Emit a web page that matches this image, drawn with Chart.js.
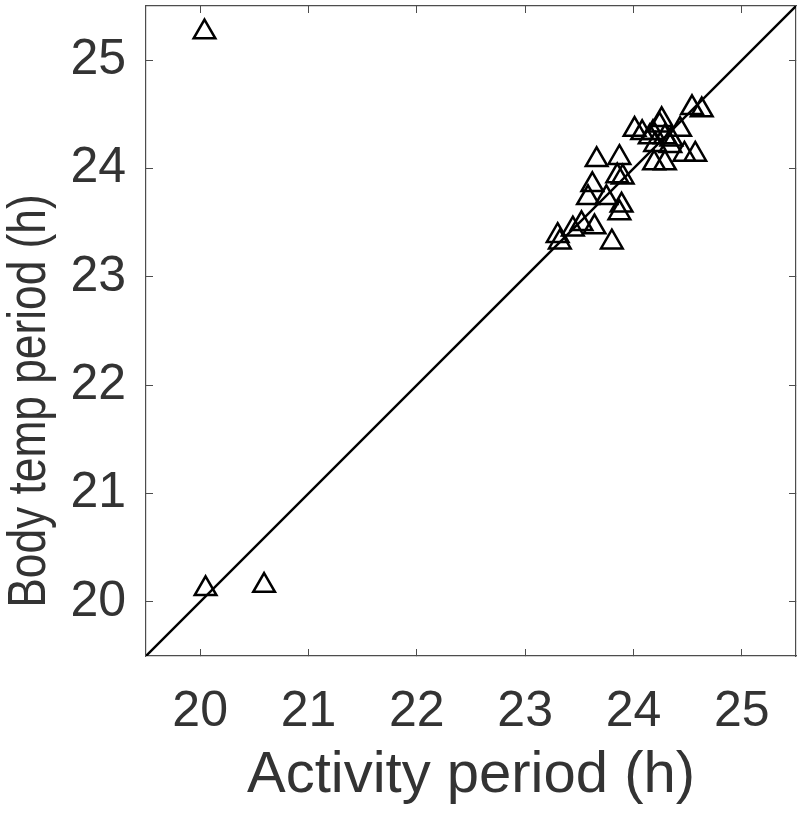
<!DOCTYPE html>
<html>
<head>
<meta charset="utf-8">
<script src="https://cdn.jsdelivr.net/npm/chart.js@4"></script>
<style>
  html, body { margin: 0; padding: 0; background: #fff; }
  #wrap { width: 800px; height: 813px; }
</style>
</head>
<body>
<div id="wrap"><canvas id="periodChart"></canvas></div>
<script>
// Activity period vs body temperature period (h), one triangle per animal
const activityPeriod = [
  20.04, 20.05, 20.59,
  23.30, 23.32, 23.44, 23.52, 23.64, 23.80,
  23.66, 23.87, 23.62, 23.58, 23.75, 23.85, 23.90, 23.89, 23.87,
  24.01, 24.08, 24.18, 24.24, 24.26, 24.43, 24.15, 24.29, 24.35,
  24.20, 24.34, 24.47, 24.57, 24.19, 24.29, 24.54, 24.63
];
const bodyTempPeriod = [
  25.26, 20.12, 20.15,
  23.38, 23.32, 23.44, 23.49, 23.46, 23.32,
  24.08, 24.10, 23.85, 23.73, 23.73, 23.93, 23.92, 23.66, 23.59,
  24.36, 24.33, 24.33, 24.40, 24.45, 24.36, 24.29, 24.29, 24.27,
  24.22, 24.21, 24.13, 24.13, 24.05, 24.05, 24.56, 24.54
];
const axisRange = [19.5, 25.5];   // both axes, identity line runs corner to corner
const tickValues = [20, 21, 22, 23, 24, 25];
const yTitleText = 'Body temp period (h)';

const points = activityPeriod.map((x, i) => ({ x: x, y: bodyTempPeriod[i] }));
const identity = axisRange.map(v => ({ x: v, y: v }));

const textColor = '#333333';
const frameColor = '#4d4d4d';

// fixes the axis box size and drops the label overhang padding
function fixSize(prop, size) {
  return axis => {
    axis[prop] = size;
    axis.paddingTop = 0; axis.paddingBottom = 0;
    axis.paddingLeft = 0; axis.paddingRight = 0;
  };
}

function baseAxis(position) {
  return {
    type: 'linear',
    position: position,
    min: axisRange[0],
    max: axisRange[1],
    afterBuildTicks: axis => { axis.ticks = tickValues.map(v => ({ value: v })); },
    grid: { drawOnChartArea: false, tickLength: -7, color: frameColor, lineWidth: 1 },
    border: { color: frameColor, width: 1.2 }
  };
}

const xAxis = baseAxis('bottom');
xAxis.ticks = { color: textColor, font: { family: 'Liberation Sans', size: 50 }, padding: 33, maxRotation: 0 };
xAxis.title = { display: true, text: 'Activity period (h)', color: textColor,
  font: { family: 'Liberation Sans', size: 58 }, padding: { top: 0, bottom: 2 } };
xAxis.afterFit = fixSize('height', 157);

const yAxis = baseAxis('left');
yAxis.ticks = { color: textColor, font: { family: 'Liberation Sans', size: 50 }, padding: 27 };
yAxis.afterFit = fixSize('width', 146);

const xTop = baseAxis('top');
xTop.ticks = { display: false };
xTop.afterFit = fixSize('height', 6);

const yRight = baseAxis('right');
yRight.ticks = { display: false };
yRight.afterFit = fixSize('width', 4);

// y title is narrower than the tick font in the original, so draw it squeezed
const yTitlePlugin = {
  id: 'yTitle',
  afterDraw(chart) {
    const ctx = chart.ctx;
    const area = chart.chartArea;
    ctx.save();
    ctx.translate(30, area.bottom - 255);
    ctx.rotate(-Math.PI / 2);
    ctx.scale(0.82, 1);
    ctx.font = '54px "Liberation Sans"';
    ctx.fillStyle = textColor;
    ctx.textAlign = 'center';
    ctx.textBaseline = 'middle';
    ctx.fillText(yTitleText, 0, 0);
    ctx.restore();
  }
};

new Chart(document.getElementById('periodChart'), {
  type: 'scatter',
  data: {
    datasets: [
      {
        label: 'Animals',
        data: points,
        pointStyle: 'triangle',
        pointRadius: 12.5,
        pointHoverRadius: 12.5,
        pointBorderWidth: 2.5,
        pointBorderColor: '#000',
        pointBackgroundColor: 'rgba(0,0,0,0)'
      },
      {
        label: 'Identity',
        type: 'line',
        data: identity,
        borderColor: '#000',
        borderWidth: 2.4,
        pointRadius: 0,
        fill: false
      }
    ]
  },
  options: {
    responsive: true,
    maintainAspectRatio: false,
    animation: false,
    layout: { padding: 0, autoPadding: false },
    plugins: { legend: { display: false }, tooltip: { enabled: false } },
    scales: { x: xAxis, y: yAxis, x2: xTop, y2: yRight }
  },
  plugins: [yTitlePlugin]
});
</script>
</body>
</html>
